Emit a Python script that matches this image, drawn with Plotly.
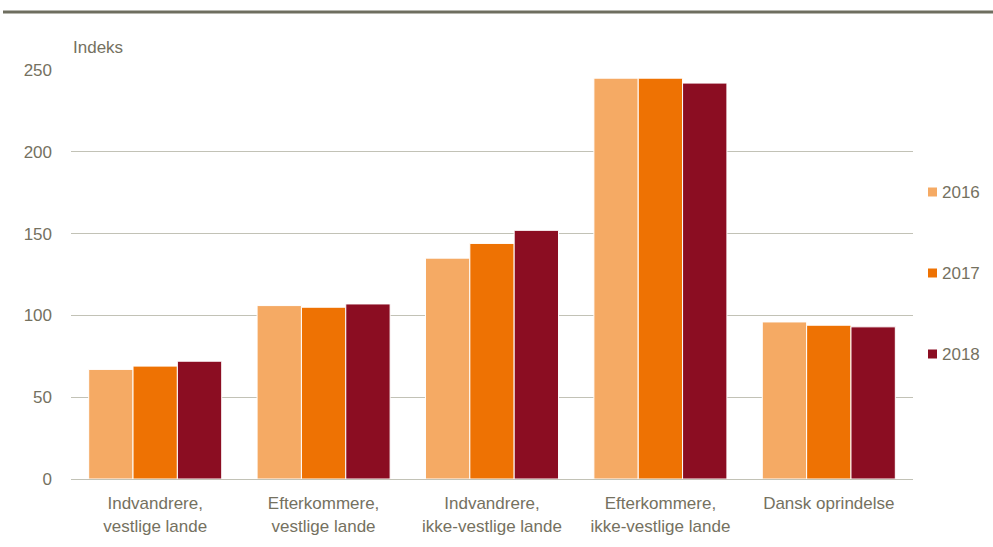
import plotly.graph_objects as go

categories = ["Indvandrere,<br>vestlige lande", "Efterkommere,<br>vestlige lande",
              "Indvandrere,<br>ikke-vestlige lande", "Efterkommere,<br>ikke-vestlige lande",
              "Dansk oprindelse"]
years = ["2016", "2017", "2018"]
v2016 = [67, 106, 135, 245, 96]
v2017 = [69, 105, 144, 245, 94]
v2018 = [72, 107, 152, 242, 93]
series = [v2016, v2017, v2018]
colors = ["#F5AA64", "#EE7203", "#8B0D22"]
tickvals = [0, 50, 100, 150, 200, 250]

W, H = 993, 547
ml, mr, mt, mb = 71, 80, 70, 68
pw, ph = W - ml - mr, H - mt - mb
textc = "#75715F"
gridc = "#C2C2B6"
fam = "Liberation Sans, Arial, sans-serif"

fig = go.Figure()
for i, (y, vals) in enumerate(zip(years, series)):
    fig.add_trace(go.Bar(x=categories, y=vals, name=y, marker_color=colors[i],
                         marker_line_color="white", marker_line_width=1))

fig.update_layout(
    width=W, height=H, margin=dict(l=ml, r=mr, t=mt, b=mb, autoexpand=False),
    paper_bgcolor="white", plot_bgcolor="white",
    font=dict(family=fam, size=17, color=textc),
    barmode="group", bargap=0.21, bargroupgap=0,
    showlegend=False,
)
fig.update_yaxes(range=[0, 250], tickvals=tickvals, showgrid=True, gridcolor=gridc,
                 gridwidth=1, zeroline=False, showline=False, ticks="", ticklabelstandoff=18,
                 tickfont=dict(size=17, color=textc), automargin=False)
fig.update_xaxes(showline=True, linecolor=gridc, linewidth=1, ticks="",
                 tickfont=dict(size=17, color=textc), automargin=False, ticklabelstandoff=9)

fig.add_annotation(text="Indeks", xref="paper", yref="paper", x=0, y=(479 - 47) / ph,
                   xanchor="left", yanchor="middle", showarrow=False,
                   font=dict(size=17, color=textc))
fig.add_shape(type="line", xref="paper", yref="paper",
              x0=(3 - ml) / pw, x1=(993 - ml) / pw, y0=(479 - 12) / ph, y1=(479 - 12) / ph,
              line=dict(color="#6E6E5F", width=3))

# legend drawn manually to match the reference spacing
leg_y = [192, 273, 354]
for i, y in enumerate(years):
    yc = (479 - leg_y[i]) / ph
    fig.add_shape(type="rect", xref="paper", yref="paper",
                  x0=(928 - ml) / pw, x1=(937 - ml) / pw,
                  y0=yc - 4.5 / ph, y1=yc + 4.5 / ph,
                  fillcolor=colors[i], line=dict(width=0))
    fig.add_annotation(text=y, xref="paper", yref="paper", x=(940 - ml) / pw, y=yc,
                       xanchor="left", yanchor="middle", showarrow=False,
                       font=dict(size=17, color=textc))

fig.write_html("out.html", config={"displayModeBar": False},
               post_script="document.body.style.margin='0';document.body.style.overflow='hidden';")
